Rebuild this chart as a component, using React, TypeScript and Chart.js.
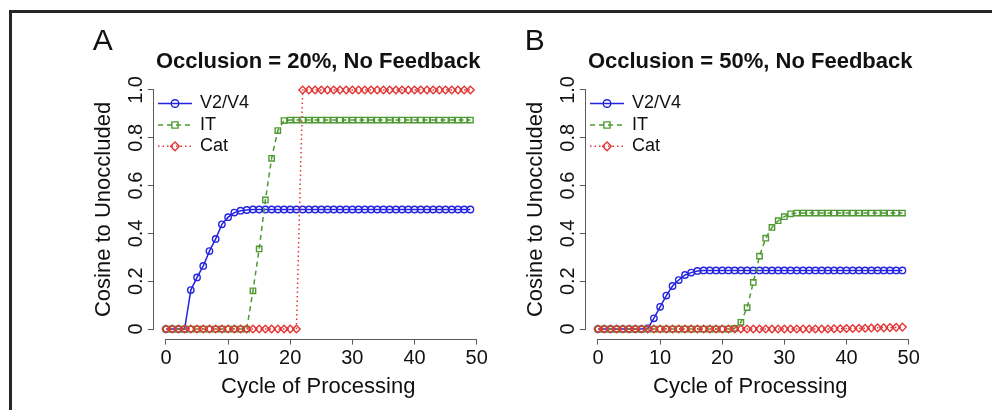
import React, { useEffect, useRef } from 'react';
import { Chart, registerables } from 'chart.js';

Chart.register(...registerables);

// ---------- data ----------
const CYCLES = [
  0, 1, 2, 3, 4, 5, 6, 7, 8, 9, 10, 11, 12, 13, 14, 15, 16, 17, 18, 19, 20, 21, 22, 23, 24,
  25, 26, 27, 28, 29, 30, 31, 32, 33, 34, 35, 36, 37, 38, 39, 40, 41, 42, 43, 44, 45, 46, 47, 48, 49,
];
const X_TICKS = [0, 10, 20, 30, 40, 50];
const Y_TICKS = [0, 0.2, 0.4, 0.6, 0.8, 1.0];
const Y_TICK_LABELS = ['0', '0.2', '0.4', '0.6', '0.8', '1.0'];
const SERIES_NAMES = ['V2/V4', 'IT', 'Cat'];
const PANEL_LETTERS = ['A', 'B'];
const PANEL_TITLES = ['Occlusion = 20%, No Feedback', 'Occlusion = 50%, No Feedback'];
const X_TITLE = 'Cycle of Processing';
const Y_TITLE = 'Cosine to Unoccluded';

// Panel A (20% occlusion)
const A_V2V4 = [
  0, 0, 0, 0, 0.163, 0.216, 0.264, 0.326, 0.377, 0.438, 0.468, 0.487, 0.495, 0.498, 0.5, 0.5, 0.5, 0.5, 0.5, 0.5, 0.5, 0.5, 0.5, 0.5, 0.5,
  0.5, 0.5, 0.5, 0.5, 0.5, 0.5, 0.5, 0.5, 0.5, 0.5, 0.5, 0.5, 0.5, 0.5, 0.5, 0.5, 0.5, 0.5, 0.5, 0.5, 0.5, 0.5, 0.5, 0.5, 0.5,
];
const A_IT = [
  0, 0, 0, 0, 0, 0, 0, 0, 0, 0, 0, 0, 0, 0, 0.16, 0.335, 0.54, 0.714, 0.83, 0.872, 0.874, 0.874, 0.874, 0.874, 0.874,
  0.874, 0.874, 0.874, 0.874, 0.874, 0.874, 0.874, 0.874, 0.874, 0.874, 0.874, 0.874, 0.874, 0.874, 0.874, 0.874, 0.874, 0.874, 0.874, 0.874, 0.874, 0.874, 0.874, 0.874, 0.874,
];
const A_CAT = [
  0, 0, 0, 0, 0, 0, 0, 0, 0, 0, 0, 0, 0, 0, 0, 0, 0, 0, 0, 0, 0, 0, 1, 1, 1,
  1, 1, 1, 1, 1, 1, 1, 1, 1, 1, 1, 1, 1, 1, 1, 1, 1, 1, 1, 1, 1, 1, 1, 1, 1,
];

// Panel B (50% occlusion)
const B_V2V4 = [
  0, 0, 0, 0, 0, 0, 0, 0, 0.003, 0.045, 0.093, 0.14, 0.18, 0.205, 0.226, 0.236, 0.243, 0.245, 0.245, 0.245, 0.245, 0.245, 0.245, 0.245, 0.245,
  0.245, 0.245, 0.245, 0.245, 0.245, 0.245, 0.245, 0.245, 0.245, 0.245, 0.245, 0.245, 0.245, 0.245, 0.245, 0.245, 0.245, 0.245, 0.245, 0.245, 0.245, 0.245, 0.245, 0.245, 0.245,
];
const B_IT = [
  0, 0, 0, 0, 0, 0, 0, 0, 0, 0, 0, 0, 0, 0, 0, 0, 0, 0, 0, 0, 0, 0, 0.003, 0.028, 0.09,
  0.195, 0.305, 0.38, 0.425, 0.453, 0.47, 0.482, 0.485, 0.485, 0.485, 0.485, 0.485, 0.485, 0.485, 0.485, 0.485, 0.485, 0.485, 0.485, 0.485, 0.485, 0.485, 0.485, 0.485, 0.485,
];
const B_CAT = [
  0, 0, 0, 0, 0, 0, 0, 0, 0, 0, 0, 0, 0, 0, 0, 0, 0, 0, 0, 0, 0, 0, 0, 0, 0,
  0, 0, 0, 0, 0, 0, 0, 0, 0, 0, 0, 0, 0, 0.001, 0.001, 0.002, 0.002, 0.003, 0.003, 0.004, 0.005, 0.005, 0.006, 0.007, 0.008,
];

// ---------- style ----------
const FONT = '"Liberation Sans", Arial, Helvetica, sans-serif';
const TEXT_COLOR = '#111111';
const AXIS_COLOR = '#5a5a5a';
const COLORS = ['#2323e0', '#4e9a32', '#e33636'];
const POINT_STYLES = ['circle', 'rect', 'rectRot'];
const DASHES = [[], [5, 4], [1.5, 3]];
const RADII = [3.2, 3.8, 3.8];

const CW = 496;
const CH = 410;
const AREA_LEFT = 153.8;
const AREA_RIGHT = 482.6;
const AREA_TOP = 80.4;
const AREA_BOTTOM = 338.6;
const LEGEND_ROWS = [103.5, 125, 146.3];

function drawMarker(ctx: CanvasRenderingContext2D, style: string, x: number, y: number, r: number) {
  ctx.beginPath();
  if (style === 'circle') {
    ctx.arc(x, y, r, 0, Math.PI * 2);
  } else if (style === 'rect') {
    const s = Math.SQRT1_2 * r;
    ctx.rect(x - s, y - s, 2 * s, 2 * s);
  } else {
    ctx.moveTo(x, y - r);
    ctx.lineTo(x + r, y);
    ctx.lineTo(x, y + r);
    ctx.lineTo(x - r, y);
    ctx.closePath();
  }
  ctx.stroke();
}

const decorPlugin = {
  id: 'panelDecor',
  afterDraw(chart: any, _args: any, opts: any) {
    const { ctx, chartArea, scales } = chart;
    const xs = scales.x;
    const ys = scales.y;
    ctx.save();

    // axis lines (R style: from first to last tick)
    ctx.strokeStyle = AXIS_COLOR;
    ctx.lineWidth = 1;
    ctx.setLineDash([]);
    const yb = Math.round(chartArea.bottom) + 0.5;
    ctx.beginPath();
    ctx.moveTo(xs.getPixelForValue(X_TICKS[0]), yb);
    ctx.lineTo(xs.getPixelForValue(X_TICKS[X_TICKS.length - 1]), yb);
    ctx.stroke();
    const xl = Math.round(chartArea.left) - 0.5;
    ctx.beginPath();
    ctx.moveTo(xl, ys.getPixelForValue(Y_TICKS[0]));
    ctx.lineTo(xl, ys.getPixelForValue(Y_TICKS[Y_TICKS.length - 1]));
    ctx.stroke();

    // rotated y tick labels
    ctx.fillStyle = TEXT_COLOR;
    ctx.font = `20px ${FONT}`;
    ctx.textAlign = 'center';
    ctx.textBaseline = 'middle';
    Y_TICKS.forEach((v, i) => {
      const py = ys.getPixelForValue(v);
      ctx.save();
      ctx.translate(chartArea.left - 17.5, py);
      ctx.rotate(-Math.PI / 2);
      ctx.fillText(Y_TICK_LABELS[i], 0, 0);
      ctx.restore();
    });

    // panel title
    ctx.font = `bold 22px ${FONT}`;
    ctx.textAlign = 'center';
    ctx.textBaseline = 'alphabetic';
    ctx.fillText(opts.title, (chartArea.left + chartArea.right) / 2, 68);

    // panel letter
    ctx.font = `30px ${FONT}`;
    ctx.textAlign = 'left';
    ctx.fillText(opts.letter, chartArea.left - 61, 50);

    // legend
    const L = chartArea.left;
    SERIES_NAMES.forEach((name, i) => {
      const y = LEGEND_ROWS[i];
      ctx.strokeStyle = COLORS[i];
      ctx.lineWidth = 1.5;
      ctx.setLineDash(DASHES[i]);
      ctx.beginPath();
      ctx.moveTo(L + 4.2, y);
      ctx.lineTo(L + 38.2, y);
      ctx.stroke();
      ctx.setLineDash([]);
      ctx.lineWidth = 1.4;
      drawMarker(ctx, POINT_STYLES[i], L + 21.2, y, RADII[i] + 0.6);
      ctx.fillStyle = TEXT_COLOR;
      ctx.font = `18px ${FONT}`;
      ctx.textAlign = 'left';
      ctx.textBaseline = 'middle';
      ctx.fillText(name, L + 46.2, y);
    });

    ctx.restore();
  },
};

function Panel({ left, index, series }: { left: number; index: number; series: number[][] }) {
  const ref = useRef<HTMLCanvasElement>(null);

  useEffect(() => {
    if (!ref.current) return;
    const datasets = series.map((vals, i) => ({
      label: SERIES_NAMES[i],
      data: CYCLES.map((c, k) => ({ x: c, y: vals[k] })),
      borderColor: COLORS[i],
      backgroundColor: 'rgba(0,0,0,0)',
      borderWidth: 1.5,
      borderDash: DASHES[i],
      pointStyle: POINT_STYLES[i],
      pointRadius: RADII[i],
      pointBorderColor: COLORS[i],
      pointBackgroundColor: 'rgba(0,0,0,0)',
      pointBorderWidth: 1.4,
      tension: 0,
      fill: false,
      order: 2 - i,
    }));

    const chart = new Chart(ref.current, {
      type: 'line',
      data: { datasets },
      options: {
        responsive: false,
        animation: false,
        devicePixelRatio: 1,
        layout: { padding: { left: 0, top: AREA_TOP, right: CW - AREA_RIGHT, bottom: 0 } },
        plugins: {
          legend: { display: false },
          tooltip: { enabled: false },
          title: { display: false },
          panelDecor: { letter: PANEL_LETTERS[index], title: PANEL_TITLES[index] },
        } as any,
        scales: {
          x: {
            type: 'linear',
            position: 'bottom',
            min: -1.96,
            max: 50.96,
            afterBuildTicks: (s: any) => {
              s.ticks = X_TICKS.map((v) => ({ value: v }));
            },
            afterFit: (s: any) => {
              s.height = CH - AREA_BOTTOM;
            },
            ticks: {
              font: { family: FONT, size: 20 },
              color: TEXT_COLOR,
              padding: 2,
              maxRotation: 0,
              autoSkip: false,
            },
            grid: {
              display: true,
              drawOnChartArea: false,
              drawTicks: true,
              tickLength: 6,
              color: AXIS_COLOR,
              lineWidth: 1,
            },
            border: { display: false },
            title: {
              display: true,
              text: X_TITLE,
              color: TEXT_COLOR,
              font: { family: FONT, size: 22 },
              padding: { top: 0, bottom: 10.3 },
            },
          },
          y: {
            type: 'linear',
            position: 'left',
            min: -0.04,
            max: 1.04,
            afterBuildTicks: (s: any) => {
              s.ticks = Y_TICKS.map((v) => ({ value: v }));
            },
            afterFit: (s: any) => {
              s.width = AREA_LEFT;
            },
            ticks: { display: false },
            grid: {
              display: true,
              drawOnChartArea: false,
              drawTicks: true,
              tickLength: 6,
              color: AXIS_COLOR,
              lineWidth: 1,
            },
            border: { display: false },
            title: {
              display: true,
              text: Y_TITLE,
              color: TEXT_COLOR,
              font: { family: FONT, size: 22 },
              padding: { top: 90.8, bottom: 0 },
            },
          },
        },
      } as any,
      plugins: [decorPlugin],
    });
    return () => chart.destroy();
  }, []);

  return (
    <canvas
      ref={ref}
      width={CW}
      height={CH}
      style={{ position: 'absolute', left, top: 0, width: CW, height: CH }}
    />
  );
}

export default function App() {
  return (
    <div
      style={{
        position: 'absolute',
        left: 0,
        top: 0,
        width: 992,
        height: 410,
        overflow: 'hidden',
        background: '#ffffff',
      }}
    >
      <div
        style={{
          position: 'absolute',
          left: 9,
          top: 10,
          width: 1400,
          height: 800,
          borderTop: '3px solid #262626',
          borderLeft: '3px solid #262626',
        }}
      />
      <Panel left={0} index={0} series={[A_V2V4, A_IT, A_CAT]} />
      <Panel left={431.8} index={1} series={[B_V2V4, B_IT, B_CAT]} />
    </div>
  );
}
